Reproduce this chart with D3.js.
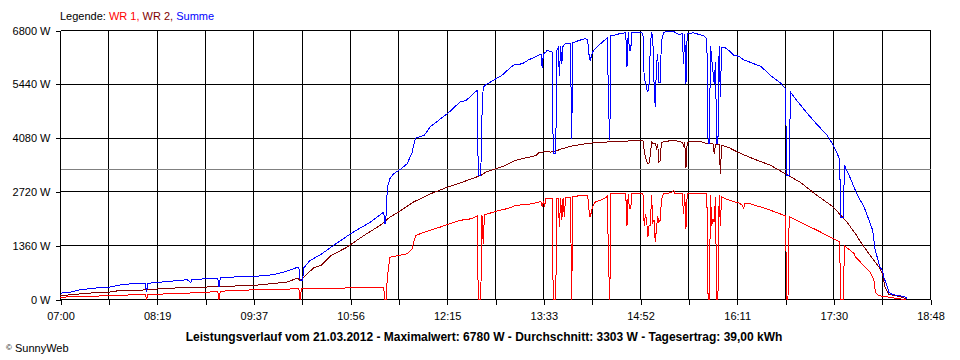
<!DOCTYPE html>
<html><head><meta charset="utf-8">
<script src="https://cdn.jsdelivr.net/npm/d3@7"></script>
<style>
body{margin:0;background:#fff}
svg text{font-family:"Liberation Sans",Arial,sans-serif;font-size:11px;fill:#000}
</style>
</head><body>
<svg id="c" width="960" height="360"></svg>
<script>
// ---- data ----
const xTickLabels = ["07:00","08:19","09:37","10:56","12:15","13:33","14:52","16:11","17:30","18:48"];
const yTickValues = [0,1360,2720,4080,5440,6800];
const average = 3303;
const legendItems = [["WR 1,","#ff0000"],["WR 2,","#800000"],["Summe","#0000ff"]];
const titleText = "Leistungsverlauf vom 21.03.2012 - Maximalwert: 6780 W - Durchschnitt: 3303 W - Tagesertrag: 39,00 kWh";

const wr1 = [["07:00",60],["07:22",75],["07:39",100],["08:09",125],["08:10",0],["08:11",125],["08:43",160],["09:08",200],["09:09",0],["09:10",210],["09:37",245],["10:14",270],["10:15",0],["10:16",270],["10:32",285],["11:07",295],["11:23",310],["11:24",0],["11:25",0],["11:26",565],["11:28",1070],["11:42",1155],["11:46",1280],["11:49",1620],["11:56",1700],["12:09",1830],["12:25",2000],["12:34",2040],["12:39",2110],["12:40",0],["12:42",0],["12:43",2125],["12:44",1410],["12:45",2140],["12:54",2225],["13:05",2310],["13:10",2375],["13:24",2420],["13:31",2475],["13:32",2335],["13:33",2500],["13:34",2350],["13:35",2545],["13:40",2545],["13:41",0],["13:43",0],["13:44",2550],["13:45",2560],["13:46",1830],["13:47",2570],["13:48",2000],["13:49",2570],["13:50",2080],["13:51",2580],["13:55",2585],["13:56",0],["13:57",2610],["14:09",2630],["14:10",2290],["14:11",2080],["14:13",2335],["14:15",2460],["14:21",2530],["14:24",2585],["14:25",2610],["14:26",900],["14:27",0],["14:28",2670],["14:40",2670],["14:41",1870],["14:42",2670],["14:43",2290],["14:44",2290],["14:45",2670],["14:54",2670],["14:55",1870],["14:56",2150],["14:57",2000],["14:58",1575],["14:59",1880],["15:00",1870],["15:01",2630],["15:02",1950],["15:03",2000],["15:04",1450],["15:05",1800],["15:06",2100],["15:07",1955],["15:08",2000],["15:09",2500],["15:10",2620],["15:11",2670],["15:17",2700],["15:19",2760],["15:20",2670],["15:26",2670],["15:27",2165],["15:28",2670],["15:29",1790],["15:30",2670],["15:46",2670],["15:47",0],["15:48",0],["15:49",2630],["15:50",1870],["15:51",2030],["15:52",1955],["15:53",2600],["15:54",0],["15:55",0],["15:56",2630],["15:57",1870],["15:58",2600],["16:00",2560],["16:08",2470],["16:12",2440],["16:15",2380],["16:16",2300],["16:17",2420],["16:21",2420],["16:35",2290],["16:49",2125],["16:50",2110],["16:51",0],["16:52",0],["16:53",2090],["17:02",1955],["17:16",1745],["17:29",1535],["17:34",1460],["17:35",0],["17:37",0],["17:38",1360],["17:46",1155],["17:47",1070],["17:50",985],["17:52",900],["17:56",775],["17:59",690],["18:01",565],["18:02",480],["18:03",230],["18:04",145],["18:06",100],["18:10",75],["18:14",60],["18:22",20],["18:28",0]];

const wr2 = [["07:00",100],["07:11",125],["07:22",160],["07:39",185],["07:49",230],["08:16",245],["08:21",285],["08:43",295],["09:10",330],["09:37",355],["10:04",440],["10:13",540],["10:15",480],["10:18",565],["10:26",800],["10:32",860],["10:40",1110],["10:53",1320],["11:07",1620],["11:20",1870],["11:28",2080],["11:37",2250],["11:47",2460],["12:01",2670],["12:15",2840],["12:31",3010],["12:42",3135],["12:46",3220],["12:54",3300],["13:02",3390],["13:10",3515],["13:18",3575],["13:27",3640],["13:29",3705],["13:35",3740],["13:39",3725],["13:44",3765],["13:48",3810],["13:56",3880],["14:07",3935],["14:14",3960],["14:21",3975],["14:32",3995],["14:45",4010],["14:54",4020],["14:55",3765],["14:56",3600],["14:57",3500],["14:58",3430],["14:59",3450],["15:00",3650],["15:01",3980],["15:02",3940],["15:03",3960],["15:04",3940],["15:05",3830],["15:06",3940],["15:07",3470],["15:08",3500],["15:09",3960],["15:10",3980],["15:19",4030],["15:26",3975],["15:27",3900],["15:28",3975],["15:29",3320],["15:30",3975],["15:35",4000],["15:41",3990],["15:44",3960],["15:47",3935],["15:51",3935],["15:52",3680],["15:53",3930],["15:56",3920],["15:57",3175],["15:58",3900],["16:04",3840],["16:11",3725],["16:24",3555],["16:38",3390],["16:50",3175],["17:02",2965],["17:14",2670],["17:29",2335],["17:40",1955],["17:47",1660],["17:52",1410],["17:58",1155],["18:03",945],["18:07",775],["18:09",650],["18:10",480],["18:11",310],["18:13",185],["18:14",125],["18:20",100],["18:28",20]];

const summe = [["07:00",160],["07:08",185],["07:16",245],["07:30",295],["07:39",310],["07:49",370],["07:57",395],["08:09",410],["08:10",185],["08:11",410],["08:43",500],["08:46",430],["08:47",505],["09:08",540],["09:09",310],["09:10",545],["09:16",565],["09:37",580],["09:54",630],["10:04",715],["10:13",815],["10:14",815],["10:15",480],["10:17",480],["10:18",800],["10:23",985],["10:32",1140],["10:40",1320],["10:56",1660],["11:12",1955],["11:23",2210],["11:24",1900],["11:25",2125],["11:26",2840],["11:28",3050],["11:31",3175],["11:37",3300],["11:42",3430],["11:46",3700],["11:47",3850],["11:49",4080],["11:56",4150],["12:01",4370],["12:09",4560],["12:15",4700],["12:25",4990],["12:30",5030],["12:38",5260],["12:39",5280],["12:40",3135],["12:42",3135],["12:43",4650],["12:44",5370],["12:46",5425],["12:54",5575],["12:59",5660],["13:05",5830],["13:09",5930],["13:16",5960],["13:21",6060],["13:26",6125],["13:29",6170],["13:31",6210],["13:32",5850],["13:33",6210],["13:35",6255],["13:36",6295],["13:39",6270],["13:40",6255],["13:41",3680],["13:43",3680],["13:44",6295],["13:45",6355],["13:46",5660],["13:47",6400],["13:48",5960],["13:49",6420],["13:51",6465],["13:55",6465],["13:56",4060],["13:57",6490],["14:02",6550],["14:07",6590],["14:09",6570],["14:10",6210],["14:11",6040],["14:13",6255],["14:15",6340],["14:21",6505],["14:24",6590],["14:25",6620],["14:26",4905],["14:27",4020],["14:28",6675],["14:32",6690],["14:36",6730],["14:40",6740],["14:41",5870],["14:42",6760],["14:43",6295],["14:44",6295],["14:45",6740],["14:52",6760],["14:54",6720],["14:55",5575],["14:56",5500],["14:57",5325],["14:58",5240],["14:59",5450],["15:00",6400],["15:01",6760],["15:02",6600],["15:03",5490],["15:04",4860],["15:05",5950],["15:06",6200],["15:07",5490],["15:08",5490],["15:09",6500],["15:10",6660],["15:11",6760],["15:19",6775],["15:23",6700],["15:26",6715],["15:27",5960],["15:28",6715],["15:29",5450],["15:30",6720],["15:35",6740],["15:41",6690],["15:44",6655],["15:46",6590],["15:47",3935],["15:48",3935],["15:49",6420],["15:50",6080],["15:51",5750],["15:52",5450],["15:53",6000],["15:54",3935],["15:55",3935],["15:56",6420],["15:57",5115],["15:58",6380],["16:00",6380],["16:04",6295],["16:08",6170],["16:12",6150],["16:16",6060],["16:30",5890],["16:38",5660],["16:46",5470],["16:50",5325],["16:51",3135],["16:53",3135],["16:54",5250],["16:57",5115],["17:08",4695],["17:14",4480],["17:24",4145],["17:29",3895],["17:34",3555],["17:35",2080],["17:37",2080],["17:38",3390],["17:43",3050],["17:48",2670],["17:54",2335],["17:59",1915],["18:01",1745],["18:02",1490],["18:03",1240],["18:05",1030],["18:06",900],["18:07",815],["18:09",735],["18:10",565],["18:11",480],["18:13",310],["18:14",185],["18:17",125],["18:22",100],["18:28",60],["18:29",0]];

// ---- drawing ----
const toMin = s => { const [h,m] = s.split(":").map(Number); return h*60 + m - 420; };
const startMin = toMin(xTickLabels[0]);
const endMin = toMin(xTickLabels[xTickLabels.length-1]);
const nIntervals = (xTickLabels.length - 1) * 2;

const svg = d3.select("#c");
const x = d3.scaleLinear().domain([startMin, endMin]).range([60.5, 930.5]);
const y = d3.scaleLinear().domain([0, 6800]).range([299.5, 30.5]);

const gridVals = d3.range(nIntervals + 1).map(i => startMin + i * (endMin - startMin) / nIntervals);

// grid
const grid = svg.append("g").attr("shape-rendering","crispEdges");
grid.selectAll("line.v").data(gridVals).join("line")
  .attr("x1", d => x(d)).attr("x2", d => x(d))
  .attr("y1", y(6800)).attr("y2", y(0))
  .attr("stroke","#000");
grid.selectAll("line.h").data(yTickValues).join("line")
  .attr("x1", x(startMin)).attr("x2", x(endMin))
  .attr("y1", d => y(d)).attr("y2", d => y(d))
  .attr("stroke","#000");

// axes
const yAxis = d3.axisLeft(y).tickValues(yTickValues).tickSize(5).tickSizeOuter(0).tickPadding(5)
  .tickFormat(d => d + " W");
svg.append("g").attr("transform", "translate(" + x(startMin) + ",0)").attr("shape-rendering","crispEdges")
  .call(yAxis).call(g => g.select(".domain").remove())
  .call(g => g.selectAll("text").attr("font-family", null).attr("font-size", null));

const xAxis = d3.axisBottom(x).tickValues(gridVals).tickSize(5).tickSizeOuter(0).tickPadding(8)
  .tickFormat((d, i) => i % 2 === 0 ? xTickLabels[i / 2] : "");
svg.append("g").attr("transform", "translate(0," + y(0) + ")").attr("shape-rendering","crispEdges")
  .call(xAxis).call(g => g.select(".domain").remove())
  .call(g => g.selectAll("text").attr("font-family", null).attr("font-size", null));

// average line
svg.append("line").attr("shape-rendering","crispEdges")
  .attr("x1", x(startMin)).attr("x2", x(endMin))
  .attr("y1", Math.round(y(average)) + 0.5).attr("y2", Math.round(y(average)) + 0.5)
  .attr("stroke","#808080");

// series
const line = d3.line().x(d => x(toMin(d[0]))).y(d => y(d[1]));
[[wr1,"#ff0000"],[wr2,"#800000"],[summe,"#0000ff"]].forEach(([data, col]) => {
  svg.append("path").datum(data).attr("d", line)
    .attr("fill","none").attr("stroke", col).attr("stroke-width", 1)
    .attr("shape-rendering","crispEdges");
});

// legend
const leg = svg.append("text").attr("x", 60).attr("y", 20);
leg.append("tspan").text("Legende: ");
legendItems.forEach(([t, c], i) => leg.append("tspan").style("fill", c).text((i ? " " : "") + t));

// title
svg.append("text").attr("x", 484).attr("y", 341).attr("text-anchor","middle")
  .style("font-weight","bold").style("font-size","12px").text(titleText);

// copyright
const cp = svg.append("text").attr("x", 6).attr("y", 352);
cp.append("tspan").style("font-size","8px").attr("dy", -2).text("©");
cp.append("tspan").attr("dy", 2).text(" SunnyWeb");
</script>
</body></html>
